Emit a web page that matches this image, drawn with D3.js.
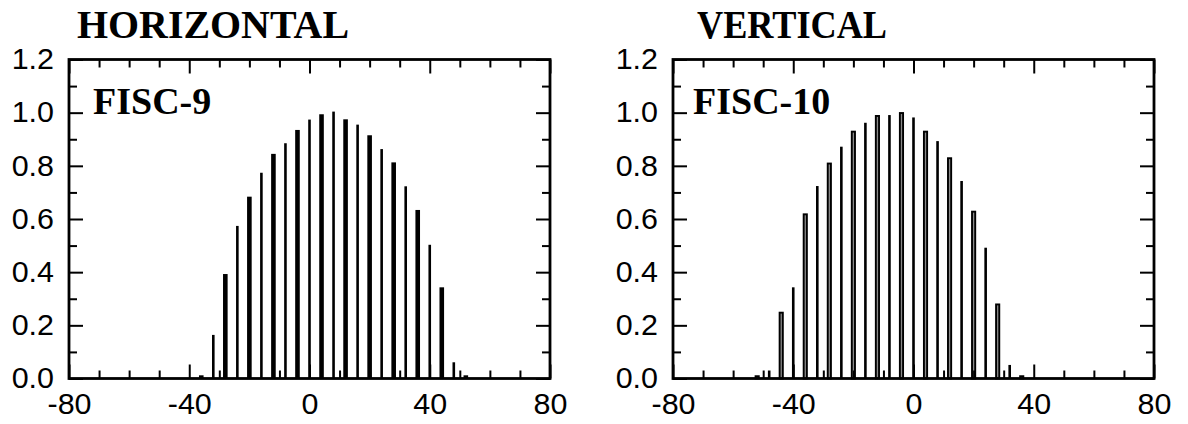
<!DOCTYPE html>
<html>
<head>
<meta charset="utf-8">
<script src="https://cdn.jsdelivr.net/npm/d3@7"></script>
<style>
  html, body { margin: 0; padding: 0; background: #fff; }
  svg { display: block; }
</style>
</head>
<body>
<svg id="chart" width="1188" height="424"></svg>
<script>
// ---- Data ----
const panelTitles = ["HORIZONTAL", "VERTICAL"];
const panelLabels = ["FISC-9", "FISC-10"];

const xTickLabels = [-80, -40, 0, 40, 80];
const xMinorTicks = [-70, -60, -50, -30, -20, -10, 10, 20, 30, 50, 60, 70];
const yTickLabels = [0.0, 0.2, 0.4, 0.6, 0.8, 1.0, 1.2];
const yMinorTicks = [0.1, 0.3, 0.5, 0.7, 0.9, 1.1];

// HORIZONTAL (FISC-9)
const hThickX = [-36, -28, -20, -12, -4, 4, 12, 20, 28, 36, 44, 52];
const hThickV = [0.012, 0.393, 0.684, 0.845, 0.935, 0.994, 0.975, 0.915, 0.813, 0.634, 0.343, 0.012];
const hThinX  = [-32, -24, -16, -8, 0, 8, 16, 24, 32, 40, 48];
const hThinV  = [0.164, 0.574, 0.774, 0.885, 0.974, 1.004, 0.955, 0.863, 0.723, 0.503, 0.061];

// VERTICAL (FISC-10)
const vThickX = [-52, -44, -36, -28, -20, -12, -4, 4, 12, 20, 28, 36];
const vThickV = [0.012, 0.251, 0.621, 0.812, 0.932, 0.991, 1.002, 0.932, 0.832, 0.631, 0.282, 0.012];
const vThinX  = [-48, -40, -32, -24, -16, -8, 0, 8, 16, 24, 32];
const vThinV  = [0.03, 0.343, 0.724, 0.872, 0.962, 0.991, 0.982, 0.893, 0.743, 0.492, 0.051];

// ---- Layout ----
const svg = d3.select("#chart");
const panels = [
  { left: 69, right: 550, title: panelTitles[0], label: panelLabels[0], titleDx: 8, titleLen: 272, labelDx: 24,
    thickX: hThickX, thickV: hThickV, thinX: hThinX, thinV: hThinV, hollow: false },
  { left: 673, right: 1154, title: panelTitles[1], label: panelLabels[1], titleDx: 24, titleLen: 190, labelDx: 20,
    thickX: vThickX, thickV: vThickV, thinX: vThinX, thinV: vThinV, hollow: true }
];
const yTop = 59.5, yBottom = 378.5;
const STRETCH = 1.05;

panels.forEach(p => {
  const x = d3.scaleLinear().domain([-80, 80]).range([p.left, p.right]);
  const y = d3.scaleLinear().domain([0, 1.2]).range([yBottom, yTop]);
  const g = svg.append("g");

  // bars: thin series
  g.selectAll("rect.thin").data(p.thinX.map((v, i) => ({ x: v, v: p.thinV[i] })))
    .enter().append("rect").attr("class", "thin")
    .attr("x", d => x(d.x) - 1.3).attr("width", 2.6)
    .attr("y", d => y(d.v)).attr("height", d => y(0) - y(d.v))
    .attr("fill", "#000");

  // bars: thick series
  const thick = g.selectAll("rect.thick").data(p.thickX.map((v, i) => ({ x: v, v: p.thickV[i] })))
    .enter().append("rect").attr("class", "thick");
  if (p.hollow) {
    thick.attr("x", d => x(d.x) - 1.6).attr("width", 3.2)
      .attr("y", d => y(d.v) + 0.9).attr("height", d => Math.max(0.5, y(0) - y(d.v) - 0.9))
      .attr("fill", "#8a8a8a").attr("stroke", "#000").attr("stroke-width", 1.9);
  } else {
    thick.attr("x", d => x(d.x) - 2.3).attr("width", 4.6)
      .attr("y", d => y(d.v)).attr("height", d => y(0) - y(d.v))
      .attr("fill", "#000");
  }

  const fontStyle = sel => sel.selectAll("text")
    .attr("font-family", "'Liberation Sans', Arial, sans-serif")
    .attr("font-size", 29).attr("fill", "#000");

  const addAxis = (axis, tx, ty, stroke) => {
    const a = g.append("g").attr("transform", `translate(${tx},${ty})`).call(axis);
    a.select(".domain").remove();
    a.selectAll(".tick line").attr("stroke", "#000").attr("stroke-width", stroke);
    return a;
  };

  // bottom
  addAxis(d3.axisBottom(x).tickValues(xMinorTicks).tickSize(-8).tickFormat(""), 0, yBottom, 2);
  const xb = addAxis(d3.axisBottom(x).tickValues(xTickLabels).tickSize(-14).tickFormat(d => String(d)), 0, yBottom, 2);
  fontStyle(xb);
  xb.selectAll("text").attr("y", 36).attr("dy", null)
    .attr("transform", `scale(${STRETCH},1)`);
  // top
  addAxis(d3.axisTop(x).tickValues(xMinorTicks).tickSize(-8).tickFormat(""), 0, yTop, 2);
  addAxis(d3.axisTop(x).tickValues(xTickLabels).tickSize(-14).tickFormat(""), 0, yTop, 2);
  // left
  addAxis(d3.axisLeft(y).tickValues(yMinorTicks).tickSize(-8).tickFormat(""), p.left, 0, 2);
  const yl = addAxis(d3.axisLeft(y).tickValues(yTickLabels).tickSize(-14).tickFormat(d => d.toFixed(1)), p.left, 0, 2);
  fontStyle(yl);
  yl.selectAll("text").attr("x", -15 / STRETCH).attr("text-anchor", "end")
    .attr("transform", `scale(${STRETCH},1)`);
  // right
  addAxis(d3.axisRight(y).tickValues(yMinorTicks).tickSize(-8).tickFormat(""), p.right, 0, 2);
  addAxis(d3.axisRight(y).tickValues(yTickLabels).tickSize(-14).tickFormat(""), p.right, 0, 2);

  // frame
  g.append("rect").attr("x", p.left).attr("y", yTop)
    .attr("width", p.right - p.left).attr("height", yBottom - yTop)
    .attr("fill", "none").attr("stroke", "#000").attr("stroke-width", 2.8);

  // titles
  svg.append("text").attr("x", p.left + p.titleDx).attr("y", 38)
    .attr("font-family", "'Liberation Serif', 'Times New Roman', serif")
    .attr("font-weight", "bold").attr("font-size", 40).attr("fill", "#000")
    .attr("textLength", p.titleLen).attr("lengthAdjust", "spacingAndGlyphs")
    .text(p.title);
  svg.append("text").attr("x", p.left + p.labelDx).attr("y", 114)
    .attr("font-family", "'Liberation Serif', 'Times New Roman', serif")
    .attr("font-weight", "bold").attr("font-size", 38).attr("fill", "#000")
    .text(p.label);
});
</script>
</body>
</html>
